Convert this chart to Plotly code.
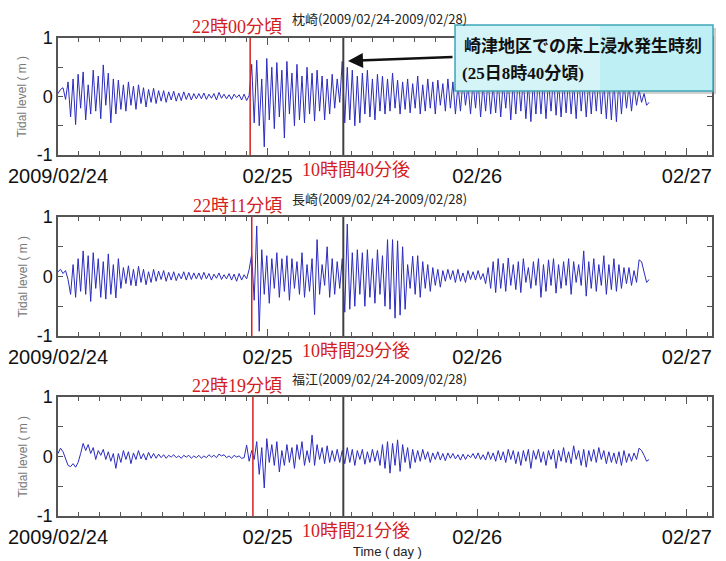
import plotly.graph_objects as go

# ---------------- data ----------------
DT = 0.012  # days per sample (time axis starts 2009/02/24 00:00)
stations = ["枕崎", "長崎", "福江"]
period = "(2009/02/24-2009/02/28)"
onset_labels = ["22時00分頃", "22時11分頃", "22時19分頃"]
onset_days = [22 / 24, (22 + 11 / 60) / 24, (22 + 19 / 60) / 24]
delay_labels = ["10時間40分後", "10時間29分後", "10時間21分後"]
flood_day = 1 + (8 + 40 / 60) / 24
tick_vals = [0, 1, 2, 3]
tick_text = ["2009/02/24", "02/25", "02/26", "02/27"]
callout_lines = ["崎津地区での床上浸水発生時刻", "(25日8時40分頃)"]

makurazaki = [
    0.05, 0.12, 0.15, -0.05,
    0.25, -0.35, 0.3, -0.48, 0.38, -0.2, 0.42, -0.4, 0.2, -0.3, 0.45, -0.25, 0.35, -0.38, 0.54, -0.15, 0.4, -0.45, 0.3,
    -0.3, 0.28, -0.22, 0.2, -0.25, 0.25, -0.15, 0.18, -0.22, 0.2, -0.12, 0.15, -0.18, 0.12, -0.1, 0.14,
    -0.12, 0.1, -0.08, 0.1, -0.1, 0.08, -0.06, 0.09, -0.08, 0.06, -0.07, 0.08, -0.05, 0.06, -0.06, 0.05, -0.04,
    0.05, -0.04, 0.06, -0.05, 0.04, -0.03, 0.05, -0.06, 0.07, -0.03, 0.04, -0.04, 0.03, -0.05, 0.04, -0.02, 0.03, -0.06, 0.04, -0.07, 0.02,
    0.55, -0.45, 0.62, -0.5, 0.3, -0.86, 0.65, -0.4, 0.5, -0.55, 0.58, -0.35, 0.45, -0.71, 0.6, -0.3, 0.4, -0.5,
    0.55, -0.4, 0.35, -0.45, 0.5, -0.3, 0.4, -0.42, 0.45, -0.25, 0.35, -0.4, 0.3, -0.3, 0.38, -0.2, 0.3, -0.1,
    0.6, -0.45, 0.5, -0.4, 0.45, -0.5, 0.35, -0.45, 0.4, -0.3, 0.45, -0.35, 0.3, -0.4, 0.38, -0.25,
    0.35, -0.3, 0.3, -0.25, 0.4, -0.2, 0.28, -0.3, 0.25, -0.22, 0.3, -0.28, 0.22, -0.2, 0.35, -0.3, 0.2, -0.25,
    0.3, -0.2, 0.25, -0.3, 0.28, -0.15, 0.22, -0.25, 0.3,
    -0.2, 0.25, -0.3, 0.2, -0.25, 0.28, -0.15, 0.2, -0.3, 0.25, -0.2, 0.3, -0.35, 0.22, -0.25, 0.3, -0.3, 0.2,
    -0.28, 0.3, -0.35, 0.25, -0.2, 0.3, -0.4, 0.28, -0.3, 0.35, -0.25, 0.3, -0.38, 0.25, -0.43, 0.3, -0.3,
    0.35, -0.3, 0.3, -0.38, 0.28, -0.25, 0.35, -0.32, 0.25, -0.35, 0.3, -0.28, 0.32, -0.3, 0.25, -0.38, 0.35, -0.25,
    0.3, -0.35, 0.28, -0.3, 0.3, -0.25, 0.35, -0.3, 0.25, -0.38, 0.3, -0.4, 0.28, -0.43, 0.3, -0.3, 0.25, -0.2,
    0.2, -0.25, 0.18, -0.15, 0.12, -0.1, 0.05, -0.15, -0.1,
]

nagasaki = [
    0.08, 0.12, 0.05, 0.1,
    -0.05, -0.3, 0.2, -0.35, 0.3, -0.25, 0.43, -0.3, 0.35, -0.42, 0.4, -0.2, 0.3, -0.35, 0.25, -0.38, 0.38, -0.3, 0.2,
    -0.36, 0.3, -0.2, 0.15, -0.12, 0.18, -0.15, 0.12, -0.16, 0.17, -0.1, 0.12, -0.14, 0.08, -0.1, 0.12,
    -0.08, 0.09, -0.05, 0.1, -0.08, 0.07, -0.06, 0.08, -0.07, 0.05, -0.04, 0.08, -0.06, 0.07, -0.05, 0.06, -0.04,
    0.06, -0.05, 0.07, -0.04, 0.05, -0.06, 0.04, -0.03, 0.06, -0.05, 0.03, -0.04, 0.05, -0.06, 0.04, -0.08, 0.05, -0.06, 0.03, -0.04, 0.12,
    0.37, -0.4, 0.85, -0.92, 0.45, -0.3, 0.35, -0.45, 0.3, -0.2, 0.4, -0.35, 0.3, -0.25, 0.35, -0.4, 0.3, -0.2,
    0.25, -0.3, 0.4, -0.35, 0.2, -0.25, 0.3, -0.64, 0.62, -0.3, 0.2, -0.15, 0.5, -0.35, 0.3, -0.3, 0.25, -0.2,
    0.3, -0.6, 0.88, -0.55, 0.4, -0.5, 0.45, -0.3, 0.4, -0.5, 0.45, -0.35, 0.3, -0.45, 0.45, -0.3,
    0.35, -0.5, 0.62, -0.55, 0.62, -0.7, 0.6, -0.65, 0.5, -0.55, 0.2, -0.2, 0.34, -0.3, 0.35, -0.35, 0.25, -0.2,
    0.2, -0.25, 0.15, -0.15, 0.12, -0.18, 0.1, -0.08, 0.12,
    -0.05, 0.1, -0.1, 0.12, -0.08, 0.06, -0.1, 0.1, -0.05, 0.08, -0.06, 0.1, -0.05, 0.05, -0.12, 0.15, -0.2, 0.25,
    -0.27, 0.3, -0.2, 0.22, -0.25, 0.31, -0.15, 0.2, -0.22, 0.25, -0.27, 0.3, -0.1, 0.15, -0.2, 0.25, -0.15,
    0.3, -0.35, 0.2, -0.25, 0.28, -0.15, 0.3, -0.28, 0.2, -0.2, 0.25, -0.15, 0.3, -0.3, 0.25, -0.1, 0.2, -0.15,
    0.43, -0.33, 0.25, -0.2, 0.3, -0.25, 0.2, -0.15, 0.35, -0.3, 0.2, -0.22, 0.3, -0.25, 0.2, -0.2, 0.15, -0.12,
    0.15, -0.15, 0.1, -0.1, 0.28, 0.25, 0.05, -0.1, -0.05,
]

fukue = [
    0.05, 0.14, 0.08, -0.05,
    -0.15, -0.17, -0.12, -0.18, -0.1, 0.05, 0.22, 0.1, 0.2, 0.05, 0.15, -0.05, 0.1, 0.02, 0.12, -0.05, 0.08, -0.08, 0.05,
    -0.2, 0.05, -0.1, 0.1, -0.05, 0.08, -0.12, 0.06, -0.05, 0.1, -0.04, 0.05, -0.06, 0.07, -0.03, 0.05,
    -0.03, 0.04, -0.02, 0.03, -0.03, 0.02, -0.01, 0.03, -0.02, 0.01, -0.03, 0.02, -0.01, 0.02, -0.03, 0.01, -0.02,
    0.02, -0.03, 0.01, -0.02, 0.03, -0.01, 0.02, -0.02, 0.04, 0.01, 0.03, -0.02, 0.01, -0.03, 0.02, -0.01, 0.01, -0.03, -0.02, 0.19, -0.08,
    0.1, -0.05, 0.25, -0.3, 0.15, -0.53, 0.3, -0.1, 0.2, -0.15, 0.25, -0.26, 0.1, -0.15, 0.2, -0.1, 0.15, -0.2,
    0.2, -0.05, 0.25, -0.15, 0.1, -0.1, 0.36, -0.15, 0.2, -0.05, 0.15, -0.12, 0.18, -0.1, 0.1, -0.08, 0.12, -0.1,
    0.1, -0.12, 0.15, -0.1, 0.12, -0.15, 0.1, -0.05, 0.12, -0.13, 0.08, -0.1, 0.12, -0.08, 0.1, -0.15,
    0.2, -0.2, 0.25, -0.28, 0.22, -0.15, 0.28, -0.25, 0.2, -0.1, 0.15, -0.2, 0.12, -0.1, 0.1, -0.08, 0.12, -0.05,
    0.08, -0.1, 0.06, -0.05, 0.08, -0.06, 0.05, -0.07, 0.06,
    -0.03, 0.05, -0.04, 0.03, -0.06, 0.04, -0.05, 0.03, -0.02, 0.05, -0.04, 0.06, -0.05, 0.03, -0.06, 0.08, -0.05, 0.06,
    -0.08, 0.1, -0.06, 0.08, -0.1, 0.12, -0.05, 0.1, -0.12, 0.08, -0.15, 0.1, -0.08, 0.12, -0.2, 0.1, -0.05,
    0.12, -0.1, 0.08, -0.15, 0.1, -0.05, 0.12, -0.2, 0.1, -0.08, 0.15, -0.1, 0.08, -0.12, 0.18, -0.05, 0.1, -0.15,
    0.12, -0.18, 0.1, -0.08, 0.12, -0.1, 0.15, -0.05, 0.1, -0.12, 0.08, -0.1, 0.06, -0.12, 0.08, -0.15, 0.1, -0.1,
    0.05, -0.08, 0.06, -0.05, 0.14, 0.1, 0.02, -0.08, -0.05,
]

series = [makurazaki, nagasaki, fukue]

# ---------------- layout helpers ----------------
W, H = 726, 561
def px(x):
    return x / W
def py(y):
    return 1 - y / H

panel_top = [38, 217, 397]
panel_bot = [155, 336, 516]
x_left, x_right = 58, 712
X_RANGE = [0, 3.12]

XTICK_FONT = dict(family="Liberation Sans Narrow, Liberation Sans, Arial, sans-serif", size=20, color="#111")
YTICK_FONT = dict(family="Liberation Sans, Arial, sans-serif", size=18, color="#111")
AXIS_COL = "#555"
LINE_COL = "#2b2bbf"
RED = "#d42020"

fig = go.Figure()
layout = dict(
    width=W, height=H, autosize=False,
    margin=dict(l=0, r=0, t=0, b=0, autoexpand=False),
    paper_bgcolor="white", plot_bgcolor="white",
    showlegend=False,
)
shapes = []
annotations = []

for k, vals in enumerate(series):
    sx = "" if k == 0 else str(k + 1)
    t = [i * DT for i in range(len(vals))]
    fig.add_trace(go.Scatter(
        x=t, y=vals, mode="lines",
        line=dict(color=LINE_COL, width=1),
        xaxis="x" + sx, yaxis="y" + sx, hoverinfo="skip",
    ))
    layout["xaxis" + sx] = dict(
        domain=[px(x_left), px(x_right)], anchor="y" + sx, range=X_RANGE,
        tickmode="array", tickvals=tick_vals, ticktext=tick_text,
        ticks="inside", ticklen=7, tickwidth=1, tickcolor=AXIS_COL,
        minor=dict(tick0=0, dtick=0.1, ticks="inside", ticklen=4, tickcolor=AXIS_COL, showgrid=False),
        showline=True, linecolor=AXIS_COL, linewidth=1.5, mirror="allticks",
        showgrid=False, zeroline=False, tickfont=XTICK_FONT, automargin=False,
        ticklabelstandoff=2,
    )
    layout["yaxis" + sx] = dict(
        domain=[py(panel_bot[k]), py(panel_top[k])], anchor="x" + sx, range=[-1, 1],
        tickmode="array", tickvals=[-1, -0.5, 0, 0.5, 1], ticktext=["-1", "", "0", "", "1"],
        ticks="inside", ticklen=5, tickwidth=1, tickcolor=AXIS_COL,
        showline=True, linecolor=AXIS_COL, linewidth=1.5, mirror="allticks",
        showgrid=False, zeroline=False, tickfont=YTICK_FONT, automargin=False,
    )
    # onset (red) and flooding (black) lines
    shapes.append(dict(type="line", xref="x" + sx, yref="y" + sx + " domain",
                       x0=onset_days[k], x1=onset_days[k], y0=0, y1=1,
                       line=dict(color=RED, width=1.5)))
    shapes.append(dict(type="line", xref="x" + sx, yref="y" + sx + " domain",
                       x0=flood_day, x1=flood_day, y0=0, y1=1,
                       line=dict(color="#404040", width=2)))

    top, bot = panel_top[k], panel_bot[k]
    annotations.append(dict(
        text=stations[k] + period, x=px(290), y=py(top - 19), xref="paper", yref="paper",
        xanchor="left", yanchor="middle", showarrow=False,
        font=dict(family="Noto Sans CJK JP", size=13, color="#222"),
    ))
    annotations.append(dict(
        text=onset_labels[k], x=px(284), y=py(top - 11), xref="paper", yref="paper",
        xanchor="right", yanchor="middle", showarrow=False,
        font=dict(family="Liberation Serif, Noto Sans CJK JP", size=18, color=RED),
    ))
    annotations.append(dict(
        text=delay_labels[k], x=px(300), y=py(bot + 15), xref="paper", yref="paper",
        xanchor="left", yanchor="middle", showarrow=False,
        font=dict(family="Liberation Serif, Noto Sans CJK JP", size=18, color=RED),
    ))
    annotations.append(dict(
        text="Tidal level ( m )", x=px(22), y=py((top + bot) / 2), xref="paper", yref="paper",
        xanchor="center", yanchor="middle", showarrow=False, textangle=-90,
        font=dict(family="Liberation Sans, Arial, sans-serif", size=12, color="#777"),
    ))

# x-axis title
annotations.append(dict(
    text="Time ( day )", x=px(388), y=py(551), xref="paper", yref="paper",
    xanchor="center", yanchor="middle", showarrow=False,
    font=dict(family="Liberation Sans Narrow, Liberation Sans, sans-serif", size=13, color="#222"),
))

# callout box (shadow + box)
shapes.append(dict(type="rect", xref="paper", yref="paper", layer="above",
                   x0=px(458), x1=px(716), y0=py(94), y1=py(28),
                   fillcolor="rgba(120,120,120,0.35)", line=dict(width=0)))
shapes.append(dict(type="rect", xref="paper", yref="paper", layer="above",
                   x0=px(455), x1=px(713), y0=py(91), y1=py(25),
                   fillcolor="#bdeff5", line=dict(color="#3fa6b5", width=1.5)))
shapes.append(dict(type="rect", xref="paper", yref="paper", layer="above",
                   x0=px(456), x1=px(600), y0=py(90), y1=py(26),
                   fillcolor="rgba(255,255,255,0.35)", line=dict(width=0)))
annotations.append(dict(
    text=callout_lines[0], x=px(462), y=py(46), xref="paper", yref="paper",
    xanchor="left", yanchor="middle", showarrow=False,
    font=dict(family="Liberation Serif, Noto Sans CJK JP", size=17, color="#111", weight="bold"),
))
annotations.append(dict(
    text=callout_lines[1], x=px(460), y=py(73), xref="paper", yref="paper",
    xanchor="left", yanchor="middle", showarrow=False,
    font=dict(family="Liberation Serif, Noto Sans CJK JP", size=17, color="#111", weight="bold"),
))
# arrow from callout to the flooding line
annotations.append(dict(
    text="", x=px(348), y=py(61), xref="paper", yref="paper",
    ax=106, ay=-4, axref="pixel", ayref="pixel",
    showarrow=True, arrowhead=2, arrowsize=1.2, arrowwidth=2.5, arrowcolor="#111",
))

layout["shapes"] = shapes
layout["annotations"] = annotations
fig.update_layout(**layout)
fig.write_html("out.html", config={"displayModeBar": False},
               post_script="document.body.style.margin='0';document.body.style.overflow='hidden';")
